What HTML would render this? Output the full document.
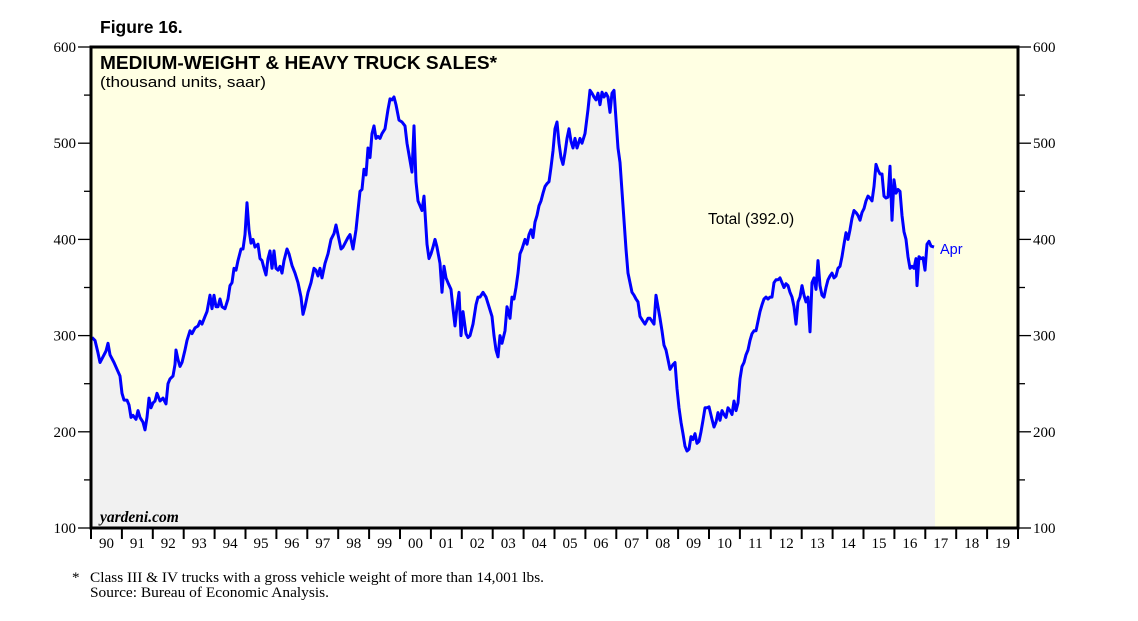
<!DOCTYPE html>
<html><head><meta charset="utf-8"><style>
body{margin:0;background:#fff;width:1138px;height:621px;overflow:hidden}
svg{display:block}
</style></head><body>
<svg id="s" width="1138" height="621" xmlns="http://www.w3.org/2000/svg" font-family="Liberation Sans, sans-serif">
<rect x="91" y="47" width="927" height="481" fill="#ffffe3"/>
<path id="fill" fill="#f1f1f1"/>
<polyline id="line" fill="none" stroke="#0000ff" stroke-width="3" stroke-linejoin="round"/>
<rect x="91" y="47" width="927" height="481" fill="none" stroke="#000" stroke-width="3"/>
<g id="ticks" stroke="#000" stroke-width="1.3"></g>
<g id="lab" font-family="Liberation Serif, serif" font-size="15" fill="#000"></g>
<text x="100" y="33" font-size="17.5" font-weight="bold">Figure 16.</text>
<text x="100" y="69" font-size="18" font-weight="bold" textLength="397" lengthAdjust="spacingAndGlyphs">MEDIUM-WEIGHT &amp; HEAVY TRUCK SALES*</text>
<text x="100" y="87" font-size="15" textLength="166" lengthAdjust="spacingAndGlyphs">(thousand units, saar)</text>
<text x="708" y="224" font-size="15.5">Total (392.0)</text>
<text x="940" y="254" font-size="14.5" fill="#0000ff">Apr</text>
<text x="100" y="522" font-family="Liberation Serif, serif" font-style="italic" font-weight="bold" font-size="15.5">yardeni.com</text>
<text x="72" y="582" font-family="Liberation Serif, serif" font-size="15">*</text>
<text x="90" y="582" font-family="Liberation Serif, serif" font-size="15" textLength="454" lengthAdjust="spacingAndGlyphs">Class III &amp; IV trucks with a gross vehicle weight of more than 14,001 lbs.</text>
<text x="90" y="597" font-family="Liberation Serif, serif" font-size="15" textLength="239" lengthAdjust="spacingAndGlyphs">Source: Bureau of Economic Analysis.</text>
</svg>
<script>
var d=[92,298,95,295,98,282,100,272,103,278,106,284,108,292,110,280,114,272,117,265,120,258,122,240,124,233,127,233,129,228,131,215,133,217,136,213,138,222,140,215,143,210,145,202,147,215,149,235,151,225,153,230,155,232,157,240,160,232,163,235,166,229,168,250,170,255,173,258,175,270,176,285,178,275,180,268,182,272,185,285,187,295,190,305,192,302,195,308,198,310,200,315,202,312,205,320,207,325,210,342,212,328,214,342,216,330,218,330,220,338,222,330,225,328,228,338,230,352,232,355,234,370,236,368,238,378,241,390,243,390,245,405,247,438,249,410,251,396,253,400,255,392,258,395,260,380,262,378,264,370,266,363,268,380,270,388,272,370,274,388,276,370,278,368,280,372,282,365,284,378,287,390,289,385,292,373,295,365,298,355,301,340,303,322,305,330,308,345,311,355,314,370,316,368,318,362,320,370,322,360,325,375,328,385,331,400,334,406,336,415,338,405,341,390,343,392,346,398,348,402,350,405,353,390,356,410,358,430,360,450,362,452,364,473,366,467,368,495,370,485,372,510,374,518,376,505,378,507,380,505,382,510,385,515,388,535,390,546,392,545,394,548,396,540,399,524,402,522,405,518,407,500,409,488,412,470,414,518,416,460,418,440,420,435,422,430,424,445,427,395,429,380,431,385,433,392,435,400,437,392,440,375,442,345,444,372,446,360,448,355,451,348,453,328,455,310,457,330,459,345,461,300,463,325,466,302,468,298,470,300,473,312,476,332,478,340,480,340,483,345,486,340,489,330,492,320,494,300,496,285,498,278,500,300,502,292,505,305,507,330,510,318,512,340,514,338,516,350,518,365,520,385,522,390,525,400,527,395,529,405,531,410,533,402,535,418,537,425,539,435,541,440,543,448,545,455,547,458,549,460,551,475,553,492,555,515,557,522,559,500,561,485,563,478,565,490,567,505,569,515,571,502,573,495,575,505,577,495,580,505,582,500,585,510,588,535,590,555,592,552,594,548,596,545,598,552,600,540,602,553,604,548,606,552,608,548,610,532,612,552,614,555,616,525,618,495,620,480,622,450,624,420,626,390,628,365,630,355,632,345,634,342,636,338,638,335,640,320,643,315,645,312,648,318,650,318,652,315,654,312,656,342,658,330,660,318,662,305,664,290,666,285,668,275,670,265,673,270,675,272,677,245,679,225,681,210,683,198,685,185,687,180,689,182,691,195,693,192,695,198,697,188,699,190,701,200,703,212,705,225,707,225,709,226,712,213,714,205,716,210,718,220,720,212,722,222,724,218,726,215,728,225,730,222,732,218,734,232,736,222,738,230,740,255,742,268,744,272,746,280,748,285,750,295,752,302,754,305,756,305,758,315,760,325,762,332,764,338,766,340,768,338,770,340,772,340,774,355,776,358,778,358,780,360,782,355,784,350,786,354,788,352,790,345,792,340,794,330,796,312,798,335,800,340,802,352,804,342,806,335,808,340,810,304,812,355,814,360,816,348,818,378,820,352,822,342,824,340,826,350,828,358,830,362,832,365,834,360,836,362,838,370,840,372,842,382,844,395,846,407,848,400,850,410,852,422,854,430,856,428,858,425,860,420,862,428,864,432,866,440,868,445,870,443,872,440,874,455,876,478,878,472,880,468,882,468,884,445,886,443,888,444,890,476,892,420,894,462,896,448,898,452,900,450,902,425,904,408,906,400,908,382,910,370,912,372,914,370,916,380,917,352,919,382,921,380,923,381,925,368,927,395,929,398,931,393,934,392];
var pts=[];for(var i=0;i<d.length;i+=2){pts.push(d[i]+','+(528-(d[i+1]-100)*0.962).toFixed(1));}
document.getElementById('line').setAttribute('points',pts.join(' '));
document.getElementById('fill').setAttribute('d','M92,528 L'+pts.join(' L')+' L935,528 Z');
var t='',l='';
for(var v=100;v<=600;v+=50){var y=528-(v-100)*0.962;
 t+='<line x1="'+(v%100?84:78)+'" y1="'+y+'" x2="91" y2="'+y+'"/><line x1="1018" y1="'+y+'" x2="'+(v%100?1025:1031)+'" y2="'+y+'"/>';
 if(v%100==0){l+='<text x="76" y="'+(y+5)+'" text-anchor="end">'+v+'</text><text x="1033" y="'+(y+5)+'">'+v+'</text>';}}
for(var k=0;k<=30;k++){var x=91+k*30.9;t+='<line x1="'+x+'" y1="528" x2="'+x+'" y2="539" stroke-width="2"/>';
 if(k<30){var yr=(90+k)%100;l+='<text x="'+(x+15.5)+'" y="548" text-anchor="middle">'+(yr<10?'0'+yr:yr)+'</text>';}}
document.getElementById('ticks').innerHTML=t;document.getElementById('lab').innerHTML=l;
</script>
</body></html>
